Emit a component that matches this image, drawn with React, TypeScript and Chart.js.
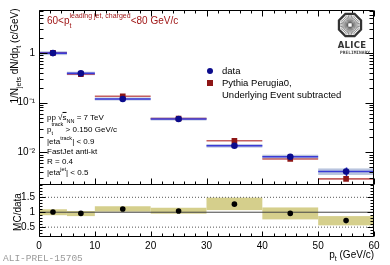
import React, { useEffect, useRef } from 'react';
import { Chart, registerables } from 'chart.js';

Chart.register(...registerables);

// ---------- data ----------
const binLow = [0, 5, 10, 20, 30, 40, 50];
const binHigh = [5, 10, 20, 30, 40, 50, 60];
const binCenter = [2.5, 7.5, 15, 25, 35, 45, 55];
const dataValues = [1.0, 0.39, 0.119, 0.047, 0.0135, 0.0081, 0.0041];
const dataStatRel = [0.01, 0.02, 0.03, 0.03, 0.09, 0.12, 0.2];
const dataSysRel = [0.09, 0.08, 0.07, 0.07, 0.08, 0.1, 0.15];
const mcValues = [1.01, 0.375, 0.135, 0.048, 0.017, 0.0073, 0.0029];
const ratioValues = [1.01, 0.96, 1.11, 1.04, 1.27, 0.96, 0.72];
const ratioLow = [0.9, 0.87, 1.02, 0.95, 1.07, 0.76, 0.56];
const ratioHigh = [1.1, 1.04, 1.2, 1.15, 1.49, 1.16, 0.87];
const xTicks = [0, 10, 20, 30, 40, 50, 60];
const yTicks = [0.01, 0.1, 1];
const yTickLabels = ['10⁻²', '10⁻¹', '1'];
const ratioTicks = [0.5, 1, 1.5];
const ratioTickLabels = ['0.5', '1', '1.5'];
const refSolid = [1];
const refDotted = [0.5, 1.5];

const FONT = "'Liberation Sans', Arial, Helvetica, sans-serif";

const stepLine = (vals: number[]) =>
  vals.flatMap((v, i) => [
    { x: binLow[i], y: v },
    { x: binHigh[i], y: v },
    { x: binHigh[i], y: null as any },
  ]);
const flatLines = (levels: number[]) =>
  levels.flatMap((v) => [
    { x: xTicks[0], y: v },
    { x: xTicks[xTicks.length - 1], y: v },
    { x: xTicks[xTicks.length - 1], y: null as any },
  ]);

const boxesPlugin = {
  id: 'boxes',
  beforeDatasetsDraw(chart: any) {
    const { ctx, scales } = chart;
    const x = scales.x, y = scales.y, y2 = scales.y2;
    ctx.save();
    ctx.beginPath();
    ctx.rect(x.left, y.top, x.right - x.left, y.bottom - y.top);
    ctx.clip();
    ctx.fillStyle = '#b9c4de';
    binLow.forEach((lo, i) => {
      const x0 = x.getPixelForValue(lo), x1 = x.getPixelForValue(binHigh[i]);
      const t = y.getPixelForValue(dataValues[i] * (1 + dataSysRel[i]));
      const b = y.getPixelForValue(dataValues[i] * (1 - dataSysRel[i]));
      ctx.fillRect(x0, t, x1 - x0, b - t);
    });
    ctx.strokeStyle = '#1c1cc0';
    ctx.lineWidth = 1.5;
    binCenter.forEach((c, i) => {
      const px = Math.round(x.getPixelForValue(c)) + 0.5;
      ctx.beginPath();
      ctx.moveTo(px, y.getPixelForValue(dataValues[i] * (1 + dataStatRel[i])));
      ctx.lineTo(px, y.getPixelForValue(dataValues[i] * (1 - dataStatRel[i])));
      ctx.stroke();
    });
    ctx.restore();
    ctx.save();
    ctx.beginPath();
    ctx.rect(x.left, y2.top, x.right - x.left, y2.bottom - y2.top);
    ctx.clip();
    ctx.fillStyle = '#d5cf8c';
    binLow.forEach((lo, i) => {
      const x0 = x.getPixelForValue(lo), x1 = x.getPixelForValue(binHigh[i]);
      const t = y2.getPixelForValue(ratioHigh[i]);
      const b = y2.getPixelForValue(ratioLow[i]);
      ctx.fillRect(x0, t, x1 - x0, b - t);
    });
    ctx.restore();
  },
};

const framePlugin = {
  id: 'frame',
  afterDatasetsDraw(chart: any) {
    const { ctx, scales } = chart;
    const x = scales.x, y = scales.y, y2 = scales.y2;
    const L = Math.round(x.left) + 0.5;
    const R = Math.round(x.right) - 0.5;
    const t1 = Math.round(y.top) + 0.5;
    const b1 = Math.round(y.bottom) + 0.5;
    const b2 = Math.round(y2.bottom) - 0.5;
    ctx.save();
    ctx.strokeStyle = '#000';
    ctx.lineWidth = 1;
    ctx.beginPath();
    ctx.rect(L, t1, R - L, b1 - t1);
    ctx.rect(L, b1, R - L, b2 - b1);
    ctx.stroke();
    ctx.beginPath();
    for (let v = xTicks[0]; v <= xTicks[xTicks.length - 1]; v += 2) {
      const major = v % 10 === 0;
      const px = Math.round(x.getPixelForValue(v)) + 0.5;
      const len = major ? 6 : 3;
      ctx.moveTo(px, b1); ctx.lineTo(px, b1 - len);
      ctx.moveTo(px, t1); ctx.lineTo(px, t1 + len);
      ctx.moveTo(px, b2); ctx.lineTo(px, b2 - (major ? 5 : 3));
    }
    for (let d = -3; d <= 1; d++) {
      for (let k = 1; k <= 9; k++) {
        const v = k * Math.pow(10, d);
        if (v < y.min || v > y.max) continue;
        const py = Math.round(y.getPixelForValue(v)) + 0.5;
        const len = k === 1 ? 8 : 4;
        ctx.moveTo(L, py); ctx.lineTo(L + len, py);
        ctx.moveTo(R, py); ctx.lineTo(R - len, py);
      }
    }
    for (let i = 2; i <= 19; i++) {
      const v = i / 10;
      if (v < y2.min || v > y2.max) continue;
      const py = Math.round(y2.getPixelForValue(v)) + 0.5;
      const len = i % 5 === 0 ? 6 : 3;
      ctx.moveTo(L, py); ctx.lineTo(L + len, py);
      ctx.moveTo(R, py); ctx.lineTo(R - len, py);
    }
    ctx.stroke();
    ctx.restore();
  },
  afterDraw(chart: any) {
    const { ctx } = chart;
    const cx = 350, cy = 25, r = 12;
    ctx.save();
    ctx.strokeStyle = '#444';
    ctx.lineWidth = 0.6;
    ctx.beginPath();
    for (let i = 0; i < 36; i++) {
      const a = (i * Math.PI) / 18;
      ctx.moveTo(cx + Math.cos(a) * 2, cy + Math.sin(a) * 2);
      ctx.lineTo(cx + Math.cos(a) * (r - 2), cy + Math.sin(a) * (r - 2));
    }
    ctx.stroke();
    ctx.strokeStyle = '#333';
    ctx.lineWidth = 2.2;
    ctx.beginPath();
    for (let i = 0; i <= 8; i++) {
      const a = Math.PI / 8 + (i * Math.PI) / 4;
      const px = cx + Math.cos(a) * r, py = cy + Math.sin(a) * r;
      if (i === 0) ctx.moveTo(px, py); else ctx.lineTo(px, py);
    }
    ctx.closePath();
    ctx.stroke();
    ctx.restore();
  },
};

function SupSub({ sup, sub, size = 7 }: { sup: string; sub: string; size?: number }) {
  return (
    <span
      style={{
        display: 'inline-flex',
        flexDirection: 'column',
        verticalAlign: 'middle',
        lineHeight: 1,
        fontSize: size,
        gap: 3,
        position: 'relative',
        top: -1,
      }}
    >
      <span>{sup}</span>
      <span>{sub}</span>
    </span>
  );
}

function Label({ x, y, size, color = '#000', children, style }: any) {
  return (
    <div
      style={{
        position: 'absolute',
        left: x,
        top: y,
        transform: 'translateY(-50%)',
        fontSize: size,
        lineHeight: 1,
        color,
        whiteSpace: 'nowrap',
        fontFamily: FONT,
        ...style,
      }}
    >
      {children}
    </div>
  );
}

export default function App() {
  const ref = useRef<HTMLCanvasElement | null>(null);

  useEffect(() => {
    const canvas = ref.current;
    if (!canvas) return;
    const tickFont = { family: FONT, size: 10 };
    const chart = new Chart(canvas, {
      type: 'line',
      data: {
        datasets: [
          {
            label: 'data',
            data: binCenter.map((c, i) => ({ x: c, y: dataValues[i] })),
            yAxisID: 'y',
            showLine: false,
            pointStyle: 'circle',
            pointRadius: 3.3,
            pointBackgroundColor: '#0b0b8c',
            pointBorderColor: '#0b0b8c',
            borderWidth: 0,
            order: 1,
          },
          {
            label: 'Pythia Perugia0',
            data: binCenter.map((c, i) => ({ x: c, y: mcValues[i] })),
            yAxisID: 'y',
            showLine: false,
            pointStyle: 'rect',
            pointRadius: 4,
            pointBackgroundColor: '#8e1616',
            pointBorderColor: '#8e1616',
            borderWidth: 0,
            order: 2,
          },
          {
            label: 'data bins',
            data: stepLine(dataValues),
            yAxisID: 'y',
            borderColor: '#3a3ad6',
            borderWidth: 1.6,
            pointRadius: 0,
            spanGaps: false,
            order: 3,
          },
          {
            label: 'mc bins',
            data: stepLine(mcValues),
            yAxisID: 'y',
            borderColor: '#c46060',
            borderWidth: 1.6,
            pointRadius: 0,
            spanGaps: false,
            order: 4,
          },
          {
            label: 'ratio',
            data: binCenter.map((c, i) => ({ x: c, y: ratioValues[i] })),
            yAxisID: 'y2',
            showLine: false,
            pointStyle: 'circle',
            pointRadius: 2.8,
            pointBackgroundColor: '#000',
            pointBorderColor: '#000',
            borderWidth: 0,
            order: 5,
          },
          {
            label: 'ref',
            data: flatLines(refSolid),
            yAxisID: 'y2',
            borderColor: '#444',
            borderWidth: 1,
            pointRadius: 0,
            spanGaps: false,
            order: 6,
          },
          {
            label: 'ref dotted',
            data: flatLines(refDotted),
            yAxisID: 'y2',
            borderColor: '#555',
            borderWidth: 1,
            borderDash: [1, 2],
            pointRadius: 0,
            spanGaps: false,
            order: 7,
          },
        ],
      },
      options: {
        animation: false,
        responsive: false,
        devicePixelRatio: 1,
        layout: { padding: { left: 0, right: 16, top: 8, bottom: 0 } },
        plugins: { legend: { display: false }, tooltip: { enabled: false } },
        scales: {
          x: {
            type: 'linear',
            position: 'bottom',
            min: 0,
            max: 60,
            grid: { display: false, drawTicks: false },
            border: { display: false },
            ticks: { font: tickFont, color: '#000', padding: 3, maxRotation: 0, autoSkip: false },
            afterBuildTicks: (s: any) => { s.ticks = xTicks.map((v) => ({ value: v })); },
            afterFit: (s: any) => { s.height = 28; },
          },
          y2: {
            type: 'linear',
            position: 'left',
            stack: 'panels',
            stackWeight: 53,
            min: 0.17,
            max: 1.93,
            grid: { display: false, drawTicks: false },
            border: { display: false },
            ticks: {
              font: tickFont,
              color: '#000',
              padding: 4,
              autoSkip: false,
              callback: (v: any) => {
                const i = ratioTicks.findIndex((t) => Math.abs(t - v) < 1e-6);
                return i >= 0 ? ratioTickLabels[i] : '';
              },
            },
            afterBuildTicks: (s: any) => { s.ticks = ratioTicks.map((v) => ({ value: v })); },
            afterFit: (s: any) => { s.width = 39; },
          },
          y: {
            type: 'logarithmic',
            position: 'left',
            stack: 'panels',
            stackWeight: 176,
            min: 0.00224,
            max: 7.4,
            grid: { display: false, drawTicks: false },
            border: { display: false },
            ticks: {
              font: tickFont,
              color: '#000',
              padding: 4,
              autoSkip: false,
              callback: (v: any) => {
                const i = yTicks.findIndex((t) => Math.abs(t - v) < t * 1e-6);
                return i >= 0 ? yTickLabels[i] : '';
              },
            },
            afterBuildTicks: (s: any) => { s.ticks = yTicks.map((v) => ({ value: v })); },
            afterFit: (s: any) => { s.width = 39; },
          },
        },
      } as any,
      plugins: [boxesPlugin, framePlugin],
    });
    return () => chart.destroy();
  }, []);

  return (
    <div style={{ position: 'fixed', left: 0, top: 0, width: 390, height: 265, background: '#fff', fontFamily: FONT }}>
      <canvas ref={ref} width={390} height={265} style={{ position: 'absolute', left: 0, top: 0 }} />

      <div
        style={{
          position: 'absolute', left: 16, top: 56, transform: 'translate(-50%, -50%) rotate(-90deg)',
          fontSize: 10, lineHeight: 1, whiteSpace: 'nowrap', fontFamily: FONT,
        }}
      >
        1/N<sub style={{ fontSize: 7 }}>jets</sub> dN/dp<sub style={{ fontSize: 7 }}>t</sub> (c/GeV)
      </div>
      <div
        style={{
          position: 'absolute', left: 18, top: 212, transform: 'translate(-50%, -50%) rotate(-90deg)',
          fontSize: 10, lineHeight: 1, whiteSpace: 'nowrap', fontFamily: FONT,
        }}
      >
        MC/data
      </div>

      <div style={{ position: 'absolute', right: 16, top: 250, fontSize: 10, lineHeight: 1, whiteSpace: 'nowrap', fontFamily: FONT }}>
        p<sub style={{ fontSize: 7 }}>t</sub> (GeV/c)
      </div>

      <Label x={47} y={21} size={10} color="#a01818">
        60&lt;p<SupSub sup="leading jet, charged" sub="t" />&lt;80 GeV/c
      </Label>

      <div style={{ position: 'absolute', left: 207, top: 68, width: 6, height: 6, borderRadius: '50%', background: '#0b0b8c' }} />
      <Label x={222} y={71} size={9.5}>data</Label>
      <div style={{ position: 'absolute', left: 207, top: 80, width: 6, height: 6, background: '#8e1616' }} />
      <Label x={222} y={83} size={9.5}>Pythia Perugia0,</Label>
      <Label x={222} y={95} size={9.5}>Underlying Event subtracted</Label>

      <div style={{ position: 'absolute', left: 352, top: 45, transform: 'translate(-50%, -50%)', fontSize: 8.5, fontWeight: 'bold', lineHeight: 1, color: '#333', fontFamily: "'DejaVu Sans', sans-serif", letterSpacing: 0.3 }}>
        ALICE
      </div>
      <div style={{ position: 'absolute', left: 355, top: 53, transform: 'translate(-50%, -50%)', fontSize: 4.5, fontWeight: 'bold', lineHeight: 1, color: '#444', fontFamily: "'DejaVu Sans Mono', monospace" }}>
        PRELIMINARY
      </div>

      <Label x={47} y={119} size={8}>
        pp √<span style={{ textDecoration: 'overline' }}>s</span><sub style={{ fontSize: 5.5 }}>NN</sub> = 7 TeV
      </Label>
      <Label x={47} y={130} size={8}>
        p<SupSub sup="track" sub="t" size={5.5} /> &gt; 0.150 GeV/c
      </Label>
      <Label x={47} y={141} size={8}>
        |eta<sup style={{ fontSize: 5.5 }}>track</sup>| &lt; 0.9
      </Label>
      <Label x={47} y={152} size={8}>FastJet anti-kt</Label>
      <Label x={47} y={162} size={8}>R = 0.4</Label>
      <Label x={47} y={172} size={8}>
        |eta<sup style={{ fontSize: 5.5 }}>jet</sup>| &lt; 0.5
      </Label>

      <div style={{ position: 'absolute', left: 3, top: 254, fontSize: 9.5, lineHeight: 1, color: '#9a9a9a', fontFamily: "'Liberation Mono', 'DejaVu Sans Mono', monospace", whiteSpace: 'nowrap' }}>
        ALI-PREL-15705
      </div>
    </div>
  );
}
